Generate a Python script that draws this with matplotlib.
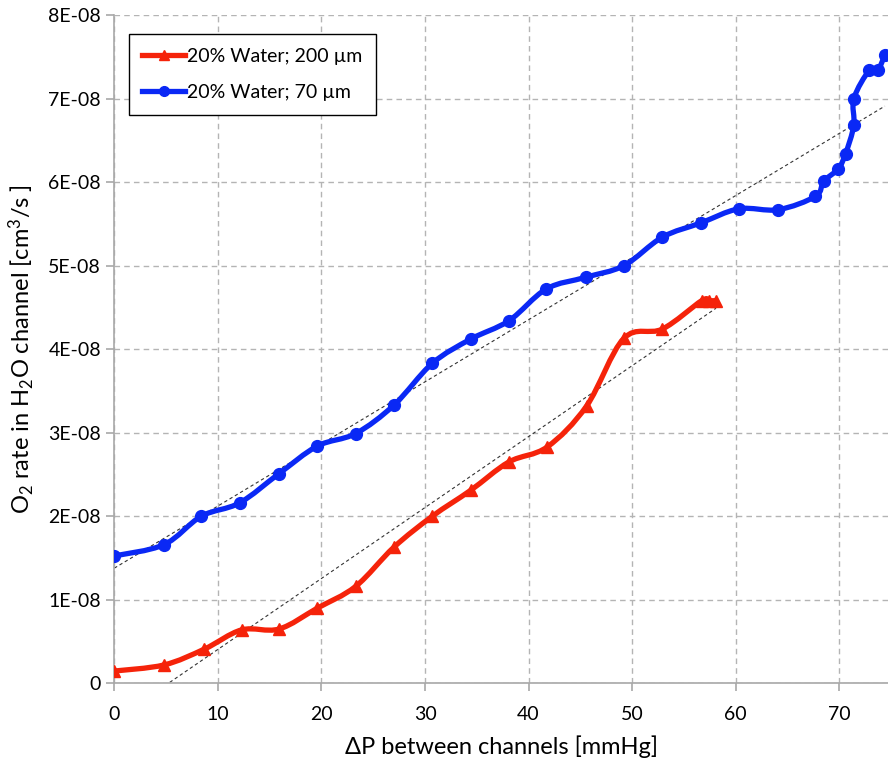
import numpy as np
import matplotlib
matplotlib.use("Agg")
import matplotlib.pyplot as plt
from matplotlib.path import Path
from matplotlib.patches import PathPatch
from matplotlib.lines import Line2D

plt.rcParams['font.family'] = ['Lato', 'DejaVu Sans']
plt.rcParams['mathtext.fontset'] = 'custom'
plt.rcParams['mathtext.rm'] = 'Lato'
plt.rcParams['mathtext.it'] = 'Lato'

# data (y in cm3/s)
red_x = [0, 4.8, 8.7, 12.3, 15.9, 19.6, 23.3, 27.0, 30.7, 34.4, 38.1, 41.8,
         45.6, 49.2, 52.9, 56.7, 57.4, 58.1]
red_y = [0.147, 0.22, 0.41, 0.64, 0.65, 0.90, 1.16, 1.63, 2.00, 2.31, 2.65, 2.83,
         3.32, 4.13, 4.24, 4.58, 4.58, 4.58]
blue_x = [0, 4.8, 8.4, 12.1, 15.9, 19.6, 23.3, 27.0, 30.7, 34.4, 38.1, 41.7,
          45.5, 49.2, 52.9, 56.6, 60.3, 64.1, 67.7, 68.5, 69.9, 70.6, 71.4, 71.4,
          72.9, 73.7, 74.4]
blue_y = [1.525, 1.66, 2.00, 2.16, 2.51, 2.84, 2.99, 3.33, 3.83, 4.12, 4.34, 4.72,
          4.86, 5.00, 5.34, 5.51, 5.68, 5.67, 5.83, 6.01, 6.16, 6.34, 6.68, 7.00,
          7.34, 7.34, 7.52]
red_y = [v * 1e-8 for v in red_y]
blue_y = [v * 1e-8 for v in blue_y]

red_label = "20% Water; 200 µm"
blue_label = "20% Water; 70 µm"
red_col = '#f5230a'
blue_col = '#0a28f5'


def smooth_path(xs, ys):
    # excel-like smoothed line: cubic bezier through the points
    p = np.column_stack([xs, ys])
    verts = [p[0]]
    codes = [Path.MOVETO]
    n = len(p)
    for i in range(n - 1):
        p0 = p[i - 1] if i > 0 else p[i]
        p3 = p[i + 2] if i + 2 < n else p[i + 1]
        c1 = p[i] + (p[i + 1] - p0) / 6
        c2 = p[i + 1] - (p3 - p[i]) / 6
        verts += [c1, c2, p[i + 1]]
        codes += [Path.CURVE4] * 3
    return Path(verts, codes)


fig = plt.figure(figsize=(8.88, 7.67), dpi=100)
ax = fig.add_axes([0.1287, 0.1091, 0.8713, 0.8713])

# linear trend lines
for xs, ys in [(red_x, red_y), (blue_x, blue_y)]:
    k, b = np.polyfit(xs, ys, 1)
    xx = np.array([xs[0], xs[-1]])
    ax.plot(xx, k * xx + b, color='#333333', lw=0.8, ls=(0, (3, 2.5)), zorder=2)

for xs, ys, col, mk, ms in [(red_x, red_y, red_col, '^', 8.5),
                            (blue_x, blue_y, blue_col, 'o', 8.5)]:
    ax.add_patch(PathPatch(smooth_path(xs, ys), facecolor='none', edgecolor=col,
                           lw=3.8, capstyle='round', joinstyle='round', zorder=3))
    ax.plot(xs, ys, ls='none', marker=mk, ms=ms, color=col, zorder=4)

ax.set_xlim(0, 74.7)
ax.set_ylim(0, 8e-8)
ax.set_xticks(np.arange(0, 71, 10))
ax.set_yticks(np.arange(0, 8.1e-8, 1e-8))
ax.set_yticklabels(['0'] + ['%dE-08' % i for i in range(1, 9)])

ax.grid(True, color='#b4b4b4', ls=(0, (4, 3)), lw=1)
ax.set_axisbelow(True)
for s in ['top', 'right']:
    ax.spines[s].set_visible(False)
for s in ['left', 'bottom']:
    ax.spines[s].set_color('#a8a8a8')
    ax.spines[s].set_linewidth(1.2)
ax.tick_params(colors='#a8a8a8', labelcolor='black', labelsize=14, length=6, width=1.2)
ax.tick_params(axis='x', pad=10)

ax.set_xlabel('ΔP between channels [mmHg]', fontsize=17, labelpad=9)
ax.set_ylabel('O$_2$ rate in H$_2$O channel [cm$^3$/s ]', fontsize=17, labelpad=8)

handles = [Line2D([], [], color=red_col, lw=3.8, marker='^', ms=7),
           Line2D([], [], color=blue_col, lw=3.8, marker='o', ms=7)]
leg = ax.legend(handles, [red_label, blue_label], loc='upper left',
                bbox_to_anchor=(0.006, 0.986), fontsize=14, fancybox=False,
                framealpha=1, edgecolor='black', handlelength=2.2,
                handletextpad=0.1, borderpad=0.7, labelspacing=1.0)
leg.get_frame().set_linewidth(1.0)

fig.savefig('out.png', dpi=100)
